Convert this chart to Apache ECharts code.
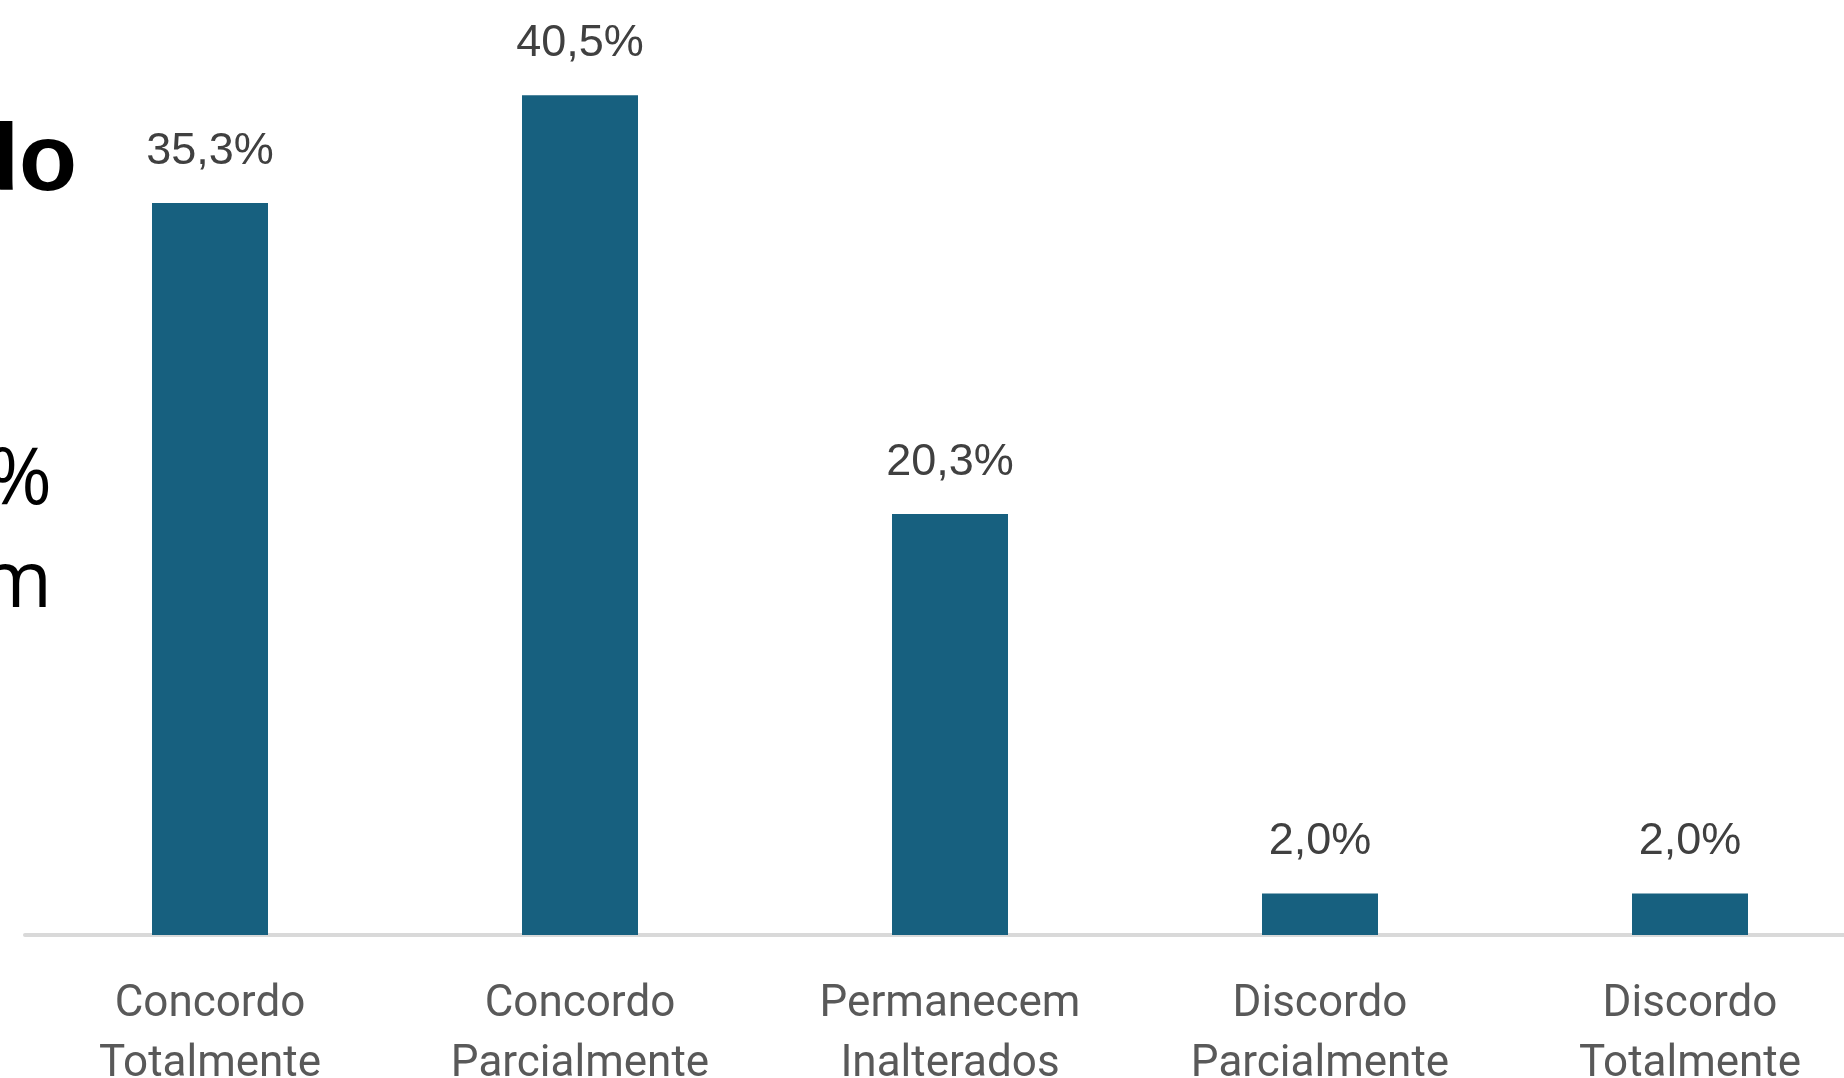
<!DOCTYPE html>
<html>
<head>
<meta charset="utf-8">
<style>
html,body{margin:0;padding:0;background:#fff;}
#chart{width:1844px;height:1078px;}
</style>
<script src="https://cdn.jsdelivr.net/npm/echarts@6/dist/echarts.min.js"></script>
</head>
<body>
<div id="chart"></div>
<script>
const categories = ['Concordo\nTotalmente', 'Concordo\nParcialmente', 'Permanecem\nInalterados', 'Discordo\nParcialmente', 'Discordo\nTotalmente'];
const values = [35.3, 40.5, 20.3, 2.0, 2.0];
const sideTexts = ['do', '%', 'm'];

const chart = echarts.init(document.getElementById('chart'), null, {renderer: 'canvas'});
chart.setOption({
  animation: false,
  backgroundColor: '#ffffff',
  grid: {left: 25, width: 1850, top: 2, bottom: 143, containLabel: false, outerBoundsMode: 'none'},
  xAxis: {
    type: 'category',
    data: categories,
    offset: 2,
    axisLine: {show: true, lineStyle: {color: '#D9D9D9', width: 4}},
    axisTick: {show: false},
    axisLabel: {
      interval: 0,
      margin: 38,
      color: '#595959',
      fontFamily: 'Roboto',
      fontSize: 44,
      lineHeight: 60
    }
  },
  yAxis: {
    type: 'value',
    min: 0,
    max: 45,
    show: false,
    splitLine: {show: false}
  },
  series: [{
    type: 'bar',
    data: values,
    barWidth: 116,
    itemStyle: {color: '#17607F'},
    label: {
      show: true,
      position: 'top',
      distance: 29,
      color: '#404040',
      fontFamily: 'Liberation Sans',
      fontSize: 45,
      formatter: p => p.value.toFixed(1).replace('.', ',') + '%'
    }
  }],
  graphic: [
    {type: 'text', x: 77, y: 164, style: {text: sideTexts[0], fill: '#000', font: 'bold 95px "Liberation Sans"', textAlign: 'right', textVerticalAlign: 'middle'}},
    {type: 'text', x: 52, y: 482, style: {text: sideTexts[1], fill: '#000', font: '78px "Open Sans"', textAlign: 'right', textVerticalAlign: 'middle'}},
    {type: 'text', x: 52, y: 585, style: {text: sideTexts[2], fill: '#000', font: '78px "Open Sans"', textAlign: 'right', textVerticalAlign: 'middle'}}
  ]
});
</script>
</body>
</html>
